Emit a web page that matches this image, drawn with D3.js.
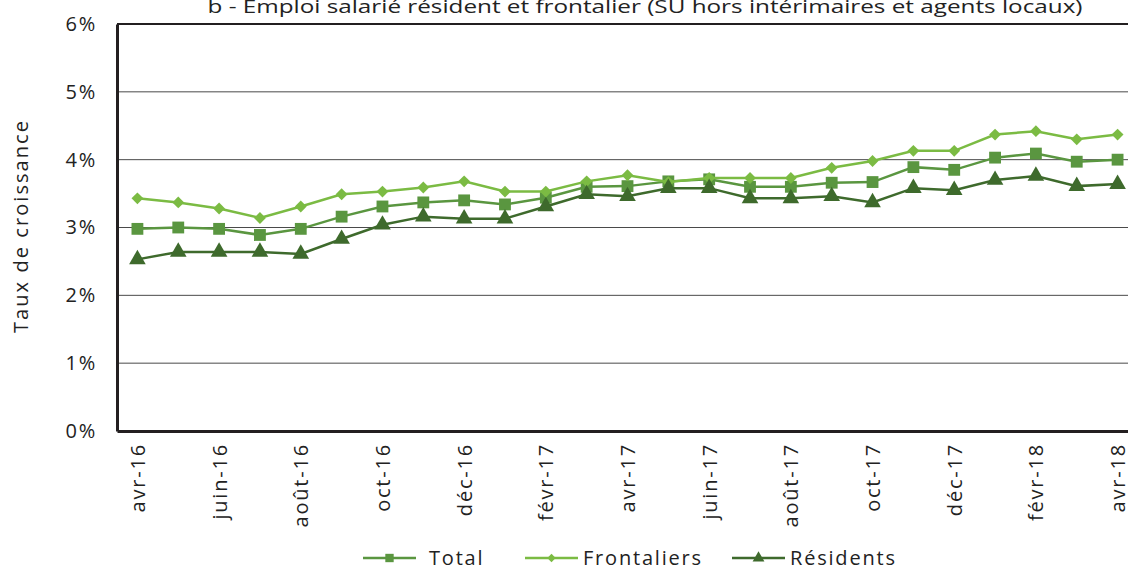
<!DOCTYPE html>
<html>
<head>
<meta charset="utf-8">
<script src="https://cdn.jsdelivr.net/npm/d3@7"></script>
<style>
  body { margin: 0; background: #fff; }
  svg { display: block; font-family: "Open Sans", sans-serif; }
</style>
</head>
<body>
<svg id="chart" width="1128" height="570"></svg>
<script>
// months, avr-16 .. avr-18
let months = ["avr-16", "mai-16", "juin-16", "juil-16", "août-16", "sept-16", "oct-16", "nov-16", "déc-16",
  "janv-17", "févr-17", "mars-17", "avr-17", "mai-17", "juin-17", "juil-17", "août-17", "sept-17", "oct-17",
  "nov-17", "déc-17", "janv-18", "févr-18", "mars-18", "avr-18"];

// growth rates in %
let total = [2.98, 3.00, 2.98, 2.89, 2.98, 3.16, 3.31, 3.37, 3.40, 3.34, 3.44, 3.60, 3.61,
  3.68, 3.71, 3.60, 3.60, 3.66, 3.67, 3.89, 3.85, 4.03, 4.09, 3.97, 4.00];
let frontaliers = [3.43, 3.37, 3.28, 3.14, 3.31, 3.49, 3.53, 3.59, 3.68, 3.53, 3.53, 3.68, 3.77,
  3.67, 3.73, 3.73, 3.73, 3.88, 3.98, 4.13, 4.13, 4.37, 4.42, 4.30, 4.37];
let residents = [2.53, 2.64, 2.64, 2.64, 2.61, 2.83, 3.04, 3.16, 3.13, 3.13, 3.31, 3.49, 3.46,
  3.58, 3.58, 3.43, 3.43, 3.46, 3.37, 3.58, 3.55, 3.70, 3.76, 3.61, 3.64];

let yTicks = [0, 1, 2, 3, 4, 5, 6];
let title = "b - Emploi salarié résident et frontalier  (SU hors intérimaires et agents locaux)";

// diamond = square turned 45 degrees
let series = [
  { name: "Total", values: total, color: "#5a9640", symbol: d3.symbolSquare, size: 140, rot: 0 },
  { name: "Frontaliers", values: frontaliers, color: "#7bbb43", symbol: d3.symbolSquare, size: 70, rot: 45 },
  { name: "Résidents", values: residents, color: "#3e6a2c", symbol: d3.symbolTriangle, size: 120, rot: 0 }
];

let svg = d3.select("#chart");
let plotLeft = 117, plotRight = 1138, plotTop = 24, plotBottom = 431;
let fontSize = 20, spacing = "1.8px";

let x = d3.scalePoint().domain(months).range([plotLeft, plotRight]).padding(0.5);
let y = d3.scaleLinear().domain([0, 6]).range([plotBottom, plotTop]);

// title (clipped at the top like the original)
svg.append("text")
  .attr("x", 645).attr("y", 13)
  .attr("text-anchor", "middle")
  .attr("font-size", 19)
  .attr("textLength", 875)
  .attr("lengthAdjust", "spacingAndGlyphs")
  .attr("fill", "#222")
  .text(title);

// gridlines
svg.append("g")
  .selectAll("line")
  .data(yTicks.filter(d => d > 0 && d < 6))
  .enter()
  .append("line")
  .attr("x1", plotLeft).attr("x2", plotRight)
  .attr("y1", d => y(d)).attr("y2", d => y(d))
  .attr("stroke", "#4a4a4a")
  .attr("stroke-width", 1);

// top border of plot area
svg.append("line").attr("x1", plotLeft).attr("x2", plotRight).attr("y1", plotTop).attr("y2", plotTop)
  .attr("stroke", "#231f20").attr("stroke-width", 2);

// y axis
let yAxis = d3.axisLeft(y).tickValues(yTicks).tickSize(0).tickPadding(20).tickFormat(d => d + "%");
let gy = svg.append("g").attr("transform", `translate(${plotLeft},0)`).call(yAxis);
gy.select(".domain").attr("stroke", "#231f20").attr("stroke-width", 3);
gy.selectAll("text").attr("font-size", fontSize).attr("letter-spacing", spacing)
  .attr("fill", "#222").attr("font-family", "Open Sans");

// x axis
let xAxis = d3.axisBottom(x).tickSize(0).tickFormat((d, i) => i % 2 === 0 ? d : "");
let gx = svg.append("g").attr("transform", `translate(0,${plotBottom})`).call(xAxis);
gx.select(".domain").attr("stroke", "#231f20").attr("stroke-width", 3);
gx.selectAll("text")
  .attr("font-size", fontSize).attr("letter-spacing", spacing)
  .attr("fill", "#222").attr("font-family", "Open Sans")
  .attr("text-anchor", "end")
  .attr("transform", "rotate(-90)")
  .attr("x", -12).attr("y", 0).attr("dy", "0.35em");

// y axis title
svg.append("text")
  .attr("transform", "translate(28,227) rotate(-90)")
  .attr("text-anchor", "middle")
  .attr("font-size", fontSize)
  .attr("textLength", 212)
  .attr("fill", "#222")
  .text("Taux de croissance");

// lines and markers
let line = d3.line().x((d, i) => x(months[i])).y(d => y(d));

series.forEach(function(s) {
  svg.append("path")
    .datum(s.values)
    .attr("d", line)
    .attr("fill", "none")
    .attr("stroke", s.color)
    .attr("stroke-width", 2.5);
  svg.append("g")
    .selectAll("path")
    .data(s.values)
    .enter()
    .append("path")
    .attr("d", d3.symbol().type(s.symbol).size(s.size))
    .attr("transform", (d, i) => `translate(${x(months[i])},${y(d)}) rotate(${s.rot})`)
    .attr("fill", s.color);
});

// legend
let legendX = [363, 525, 732];
let legend = svg.append("g")
  .selectAll("g")
  .data(series)
  .enter()
  .append("g")
  .attr("transform", (d, i) => `translate(${legendX[i]},558)`);
legend.append("line")
  .attr("x1", 0).attr("x2", 53)
  .attr("stroke", d => d.color).attr("stroke-width", 2.5);
legend.append("path")
  .attr("d", d => d3.symbol().type(d.symbol).size(d.size * 0.5)())
  .attr("transform", d => `translate(26.5,0) rotate(${d.rot})`)
  .attr("fill", d => d.color);
legend.append("text")
  .attr("x", (d, i) => i === 0 ? 66 : 58)
  .attr("dy", "0.35em")
  .attr("font-size", fontSize)
  .attr("letter-spacing", spacing)
  .attr("fill", "#222")
  .text(d => d.name);
</script>
</body>
</html>
